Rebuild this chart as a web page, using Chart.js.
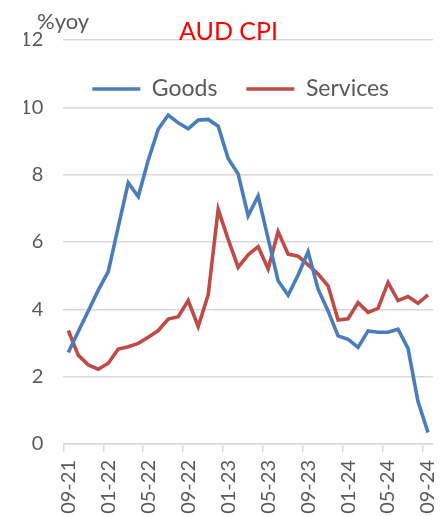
<!DOCTYPE html>
<html>
<head>
<meta charset="utf-8">
<script src="https://cdn.jsdelivr.net/npm/chart.js@4/dist/chart.umd.min.js"></script>
<style>
    html, body { margin: 0; padding: 0; background: #fff; }
    canvas { display: block; }
</style>
</head>
<body>
<canvas id="cpiChart" width="444" height="516"></canvas>
<script>
const months = ['09-21', '10-21', '11-21', '12-21', '01-22', '02-22', '03-22', '04-22', '05-22', '06-22', '07-22', '08-22',
    '09-22', '10-22', '11-22', '12-22', '01-23', '02-23', '03-23', '04-23', '05-23', '06-23', '07-23', '08-23',
    '09-23', '10-23', '11-23', '12-23', '01-24', '02-24', '03-24', '04-24', '05-24', '06-24', '07-24', '08-24', '09-24'];

const goods = [2.72, 3.34, 3.95, 4.57, 5.12, 6.45, 7.76, 7.35, 8.43, 9.35, 9.77, 9.54,
    9.36, 9.62, 9.64, 9.44, 8.48, 8.02, 6.78, 7.37, 6.1, 4.85, 4.42, 5.02,
    5.71, 4.6, 3.95, 3.21, 3.11, 2.87, 3.36, 3.32, 3.32, 3.41, 2.84, 1.26, 0.34];

const services = [3.37, 2.64, 2.35, 2.22, 2.40, 2.82, 2.89, 2.99, 3.17, 3.37, 3.71, 3.78,
    4.26, 3.49, 4.43, 6.97, 6.08, 5.25, 5.62, 5.86, 5.2, 6.31, 5.64, 5.58,
    5.32, 5.05, 4.7, 3.68, 3.72, 4.2, 3.91, 4.03, 4.8, 4.26, 4.38, 4.18, 4.43];

const yTicks = [0, 2, 4, 6, 8, 10, 12];
const labelEvery = 4;

const FONT = 'Lato, "Open Sans", sans-serif';
const GREY_TEXT = '#595959';
const GRID = '#d9d9d9';

// "%yoy" unit text, top left above the axis
const unitLabel = {
    id: 'unitLabel',
    afterDraw(chart) {
        const ctx = chart.ctx;
        ctx.save();
        ctx.font = `22px ${FONT}`;
        ctx.fillStyle = GREY_TEXT;
        ctx.textAlign = 'left';
        ctx.textBaseline = 'alphabetic';
        ctx.fillText('%yoy', 37, 29);
        ctx.restore();
    }
};

// the legend sits inside the plot: take no room in the layout, get its height back afterwards
const legendInside = {
    id: 'legendInside',
    beforeLayout(chart) {
        const lg = chart.legend;
        if (!lg || lg._inside) return;
        const fit = lg.fit.bind(lg);
        lg.fit = function () {
            fit();
            this._realHeight = this.height;
            this.height = 0;
        };
        lg._inside = true;
    },
    afterLayout(chart) {
        const lg = chart.legend;
        if (!lg || lg._realHeight === undefined) return;
        lg.height = lg._realHeight;
        lg.bottom = lg.top + lg.height;
    }
};

new Chart(document.getElementById('cpiChart'), {
    type: 'line',
    data: {
        labels: months,
        datasets: [
            {label: 'Goods', data: goods, borderColor: '#4a7ebb', backgroundColor: '#4a7ebb', borderWidth: 3.6, pointRadius: 0, tension: 0},
            {label: 'Services', data: services, borderColor: '#be4b48', backgroundColor: '#be4b48', borderWidth: 3.6, pointRadius: 0, tension: 0}
        ]
    },
    options: {
        responsive: false,
        animation: false,
        devicePixelRatio: 1,
        layout: {padding: {left: 24, right: 11, top: 0, bottom: 0}},
        plugins: {
            tooltip: {enabled: false},
            title: {
                display: true,
                text: 'AUD CPI',
                color: '#ff0000',
                font: {family: FONT, size: 25, weight: 'normal', lineHeight: 0.6},
                padding: {top: 24, bottom: 1}
            },
            legend: {
                position: 'top',
                fullSize: false,
                align: 'start',
                title: {display: true, text: '', font: {size: 8.5, lineHeight: 1}, padding: 0},
                labels: {
                    usePointStyle: true,
                    pointStyle: 'line',
                    pointStyleWidth: 48,
                    padding: 29,
                    color: GREY_TEXT,
                    font: {family: FONT, size: 23}
                }
            }
        },
        scales: {
            x: {
                offset: true,
                grid: {
                    offset: true,
                    drawOnChartArea: false,
                    drawTicks: true,
                    tickLength: 8,
                    lineWidth: 1.5,
                    color: GRID,
                    tickColor: c => (c.index % labelEvery === 0 ? GRID : 'rgba(0,0,0,0)')
                },
                border: {display: true, color: GRID, width: 1.5},
                ticks: {
                    autoSkip: false,
                    minRotation: 90,
                    maxRotation: 90,
                    padding: 8,
                    color: GREY_TEXT,
                    font: {family: FONT, size: 20},
                    callback: function (v, i) { return i % labelEvery === 0 ? months[i] : ''; }
                },
                afterFit: s => {
                    s.height = 72;
                    s.paddingLeft = 0;
                    s.paddingRight = 0;
                }
            },
            y: {
                min: 0,
                max: 12,
                afterBuildTicks: s => { s.ticks = yTicks.map(v => ({value: v})); },
                grid: {color: GRID, lineWidth: 1.5, drawTicks: false},
                border: {display: false},
                ticks: {
                    padding: 20,
                    color: GREY_TEXT,
                    font: {family: FONT, size: 20}
                },
                afterFit: s => { s.width = 63.3 - 24; }
            }
        }
    },
    plugins: [unitLabel, legendInside]
});
</script>
</body>
</html>
